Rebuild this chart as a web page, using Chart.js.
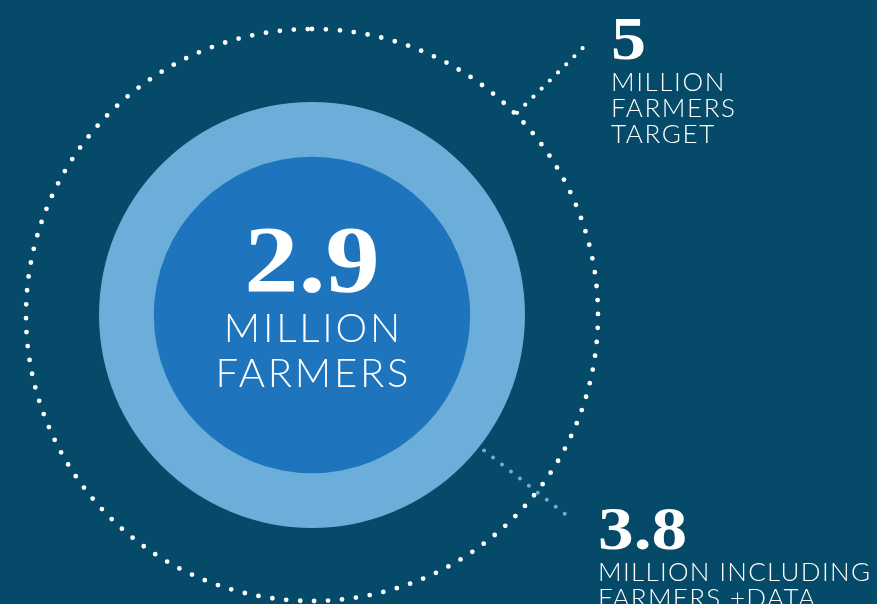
<!DOCTYPE html>
<html>
<head>
<meta charset="utf-8">
<script src="https://cdn.jsdelivr.net/npm/chart.js@4"></script>
<style>
  html, body { margin: 0; padding: 0; background: #064a69; }
  #wrap { width: 877px; height: 604px; position: relative; overflow: hidden; }
</style>
</head>
<body>
<div id="wrap"><canvas id="farmersChart"></canvas></div>
<script>
// Data
const categories = ['Farmers', 'Including farmers +data', 'Target'];
const values = [2.9, 3.8, 5];
const unitLines = [
  ['MILLION', 'FARMERS'],
  ['MILLION INCLUDING', 'FARMERS +DATA'],
  ['MILLION', 'FARMERS', 'TARGET']
];

const BG = '#064a69';
const LIGHT = '#6aaed9';
const INNER = '#1f74be';
const SERIF = '"Liberation Serif", "DejaVu Serif", serif';
const SANS = 'Lato, "Open Sans", sans-serif';

function dottedRay(ctx, cx, cy, deg, r0, r1, color, size, gap) {
  const a = deg * Math.PI / 180;
  ctx.save();
  ctx.strokeStyle = color;
  ctx.lineWidth = size;
  ctx.lineCap = 'round';
  ctx.setLineDash([0, gap]);
  ctx.beginPath();
  ctx.moveTo(cx + Math.cos(a) * r0, cy + Math.sin(a) * r0);
  ctx.lineTo(cx + Math.cos(a) * r1, cy + Math.sin(a) * r1);
  ctx.stroke();
  ctx.restore();
}

function textBlock(ctx, x, y, num, lines, opts) {
  ctx.save();
  ctx.fillStyle = '#ffffff';
  ctx.textAlign = opts.align;
  ctx.textBaseline = 'alphabetic';
  // the display numerals are a wide bold serif, so stretch a little
  ctx.save();
  ctx.translate(x, y);
  ctx.scale(opts.numStretch, 1);
  ctx.font = 'bold ' + opts.numSize + 'px ' + SERIF;
  ctx.fillText(String(num), 0, 0);
  ctx.restore();
  ctx.font = '300 ' + opts.lineSize + 'px ' + SANS;
  ctx.letterSpacing = opts.spacing + 'px';
  lines.forEach((t, i) => {
    const dx = opts.align === 'center' ? opts.spacing / 2 : 0;
    ctx.fillText(t, x + dx, y + opts.firstGap + i * opts.lineGap);
  });
  ctx.restore();
}

const ringDecor = {
  id: 'ringDecor',
  afterDatasetsDraw(chart) {
    const ctx = chart.ctx;
    const mid = chart.getDatasetMeta(1).data[0];
    const target = chart.getDatasetMeta(2).data[0];
    const cx = target.x, cy = target.y;

    // leader from the 3.8 ring
    dottedRay(ctx, cx, cy, 38.2, mid.outerRadius + 6, 324, LIGHT, 4, 11.4);

    // dotted target ring
    ctx.save();
    ctx.strokeStyle = '#ffffff';
    ctx.lineWidth = 4.8;
    ctx.lineCap = 'round';
    ctx.setLineDash([0, 14]);
    ctx.beginPath();
    ctx.arc(cx, cy, target.outerRadius, -Math.PI / 2, Math.PI * 1.5);
    ctx.stroke();
    ctx.restore();

    // leader from the target ring
    dottedRay(ctx, cx, cy, -44.6, target.outerRadius + 2, 390, '#ffffff', 4.2, 11.5);

    // labels
    textBlock(ctx, cx, 292, values[0], unitLines[0],
      {align: 'center', numSize: 96, numStretch: 1.13, lineSize: 40, spacing: 2.8, firstGap: 50, lineGap: 45});
    textBlock(ctx, 611, 59, values[2], unitLines[2],
      {align: 'left', numSize: 62, numStretch: 1.13, lineSize: 26, spacing: 1.6, firstGap: 32, lineGap: 26});
    textBlock(ctx, 598, 549, values[1], unitLines[1],
      {align: 'left', numSize: 62, numStretch: 1.15, lineSize: 26, spacing: 1.3, firstGap: 32, lineGap: 26});
  }
};

const ctx = document.getElementById('farmersChart').getContext('2d');
const chart = new Chart(ctx, {
  type: 'polarArea',
  data: {
    labels: [''],
    datasets: [
      { label: categories[0], data: [values[0]], backgroundColor: INNER, borderWidth: 0 },
      { label: categories[1], data: [values[1]], backgroundColor: LIGHT, borderWidth: 0 },
      { label: categories[2], data: [values[2]], backgroundColor: 'rgba(0,0,0,0)', borderWidth: 0 }
    ]
  },
  options: {
    responsive: true,
    maintainAspectRatio: false,
    animation: false,
    layout: { padding: { top: 29, bottom: 2, left: 25, right: 278 } },
    plugins: {
      legend: { display: false },
      tooltip: { enabled: false }
    },
    scales: {
      r: {
        display: false,
        min: 0.3,
        max: 5
      }
    }
  },
  plugins: [ringDecor]
});
</script>
</body>
</html>
